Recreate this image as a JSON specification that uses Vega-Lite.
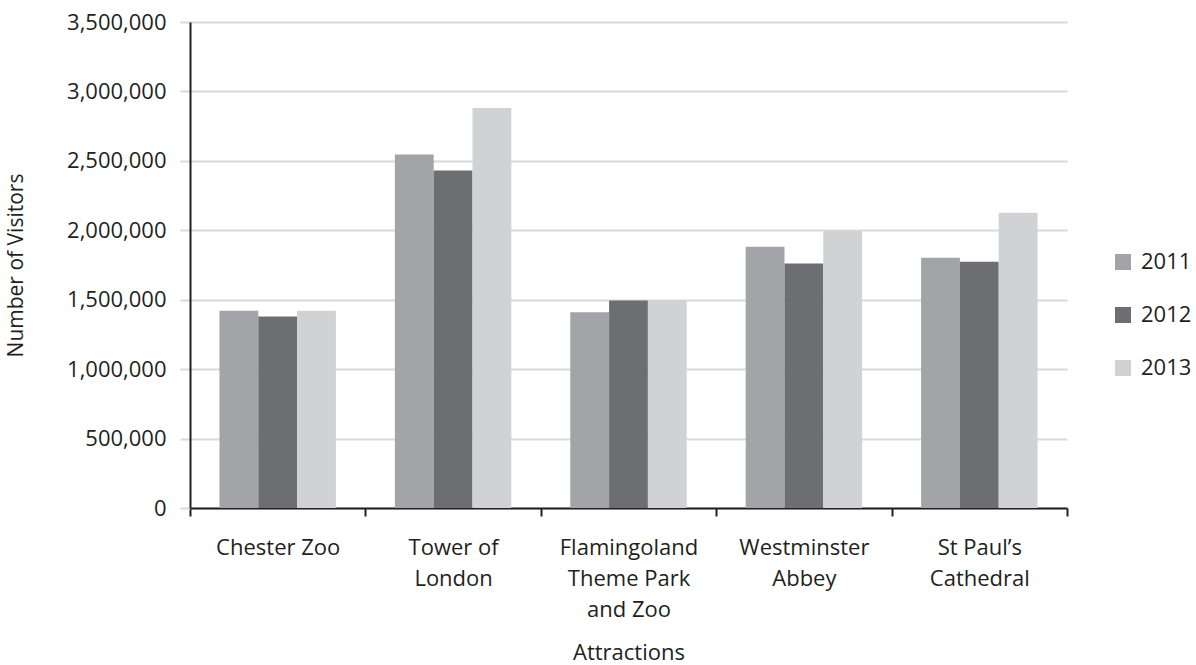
{
  "$schema": "https://vega.github.io/schema/vega-lite/v6.json",
  "autosize": {"type": "none"},
  "padding": {"left": 190, "top": 22, "right": 129, "bottom": 157},
  "width": 877,
  "height": 486,
  "background": "white",
  "config": {
    "view": {"stroke": null},
    "font": "Open Sans",
    "axis": {"labelFont": "Open Sans", "titleFont": "Open Sans", "labelColor": "#231f20", "titleColor": "#231f20", "titleFontWeight": "normal"},
    "legend": {"labelFont": "Open Sans"}
  },
  "data": {
    "values": [
      {"attraction": "Chester Zoo", "year": "2011", "visitors": 1420000},
      {"attraction": "Chester Zoo", "year": "2012", "visitors": 1380000},
      {"attraction": "Chester Zoo", "year": "2013", "visitors": 1420000},
      {"attraction": "Tower of London", "year": "2011", "visitors": 2545000},
      {"attraction": "Tower of London", "year": "2012", "visitors": 2430000},
      {"attraction": "Tower of London", "year": "2013", "visitors": 2880000},
      {"attraction": "Flamingoland Theme Park and Zoo", "year": "2011", "visitors": 1410000},
      {"attraction": "Flamingoland Theme Park and Zoo", "year": "2012", "visitors": 1495000},
      {"attraction": "Flamingoland Theme Park and Zoo", "year": "2013", "visitors": 1495000},
      {"attraction": "Westminster Abbey", "year": "2011", "visitors": 1882000},
      {"attraction": "Westminster Abbey", "year": "2012", "visitors": 1760000},
      {"attraction": "Westminster Abbey", "year": "2013", "visitors": 1995000},
      {"attraction": "St Paul’s Cathedral", "year": "2011", "visitors": 1803000},
      {"attraction": "St Paul’s Cathedral", "year": "2012", "visitors": 1774000},
      {"attraction": "St Paul’s Cathedral", "year": "2013", "visitors": 2126000}
    ]
  },
  "mark": {"type": "bar"},
  "encoding": {
    "x": {
      "field": "attraction",
      "type": "nominal",
      "sort": null,
      "scale": {"paddingInner": 0, "paddingOuter": 0},
      "title": "Attractions",
      "axis": {
        "labelAngle": 0,
        "labelFontSize": 22,
        "labelLineHeight": 31,
        "labelBaseline": "top",
        "labelPadding": 21,
        "labelExpr": "datum.label == 'Tower of London' ? ['Tower of', 'London'] : datum.label == 'Flamingoland Theme Park and Zoo' ? ['Flamingoland', 'Theme Park', 'and Zoo'] : datum.label == 'Westminster Abbey' ? ['Westminster', 'Abbey'] : datum.label == 'St Paul’s Cathedral' ? ['St Paul’s', 'Cathedral'] : datum.label",
        "tickBand": "extent",
        "tickColor": "#231f20",
        "tickWidth": 2,
        "tickSize": 8,
        "domainColor": "#231f20",
        "domainWidth": 2,
        "titleFontSize": 22,
        "titleX": 438.5,
        "titleY": 144,
        "titleBaseline": "middle"
      }
    },
    "xOffset": {"field": "year", "type": "nominal", "scale": {"paddingInner": 0, "paddingOuter": 0.76}},
    "y": {
      "field": "visitors",
      "type": "quantitative",
      "scale": {"domain": [0, 3500000], "nice": false},
      "title": "Number of Visitors",
      "axis": {
        "values": [0, 500000, 1000000, 1500000, 2000000, 2500000, 3000000, 3500000],
        "format": ",d",
        "labelFontSize": 22,
        "labelPadding": 14,
        "tickSize": 10,
        "tickColor": "#d9d9d9",
        "tickWidth": 2,
        "gridColor": "#d9d9d9",
        "gridWidth": 2,
        "domainColor": "#231f20",
        "domainWidth": 2,
        "titleFontSize": 21,
        "titleX": -174,
        "titleY": 243,
        "titleBaseline": "middle",
        "titleAngle": -90
      }
    },
    "color": {
      "field": "year",
      "type": "nominal",
      "scale": {"domain": ["2011", "2012", "2013"], "range": ["#a3a4a8", "#6d6e72", "#d1d2d4"]},
      "legend": {
        "title": null,
        "orient": "none",
        "legendX": 922,
        "legendY": 229,
        "padding": 0,
        "symbolType": "square",
        "symbolSize": 256,
        "symbolStrokeWidth": 0,
        "symbolOpacity": 1,
        "labelFontSize": 22,
        "labelColor": "#231f20",
        "labelOffset": 7,
        "rowPadding": 31
      }
    }
  }
}
